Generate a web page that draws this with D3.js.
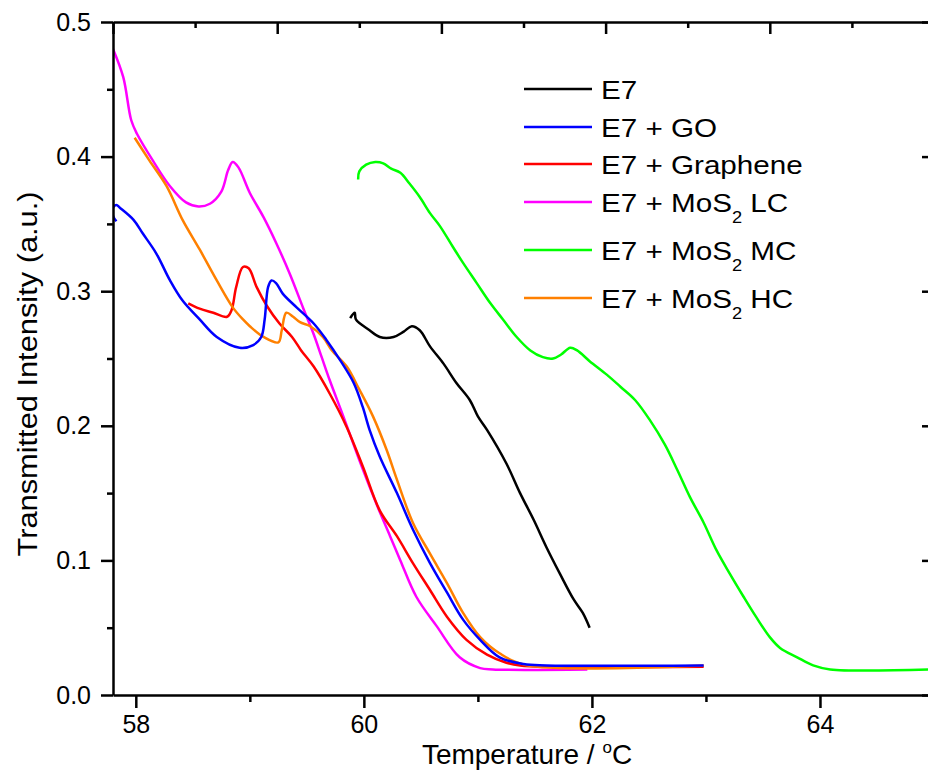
<!DOCTYPE html>
<html>
<head>
<meta charset="utf-8">
<script src="https://cdn.jsdelivr.net/npm/d3@7"></script>
<style>
  body { margin: 0; background: #fff; }
  svg { display: block; }
</style>
</head>
<body>
<div id="vis-svg"></div>
<script>
// chart data
var tempE7 = [59.88, 59.92, 59.93, 60.05, 60.14, 60.26, 60.35, 60.42, 60.49, 60.58, 60.70, 60.81, 60.93, 61.00, 61.08, 61.25, 61.37, 61.49, 61.60, 61.72, 61.84, 61.92, 61.98];
var intE7  = [0.280, 0.284, 0.279, 0.271, 0.266, 0.266, 0.270, 0.274, 0.271, 0.259, 0.246, 0.232, 0.219, 0.207, 0.197, 0.172, 0.150, 0.130, 0.110, 0.090, 0.071, 0.061, 0.050];

var tempGO = [57.83, 57.80, 57.80, 57.83, 57.86, 57.98, 58.06, 58.18, 58.30, 58.41, 58.56, 58.71, 58.91, 59.03, 59.10, 59.13, 59.16, 59.19, 59.23, 59.29, 59.41, 59.56, 59.67, 59.79, 59.91, 59.99, 60.05, 60.14, 60.29, 60.43, 60.58, 60.73, 60.87, 61.02, 61.19, 61.40, 61.60, 62.98];
var intGO  = [0.352, 0.356, 0.362, 0.364, 0.362, 0.353, 0.343, 0.328, 0.308, 0.293, 0.279, 0.266, 0.258, 0.260, 0.266, 0.279, 0.303, 0.308, 0.306, 0.298, 0.288, 0.276, 0.264, 0.249, 0.232, 0.214, 0.197, 0.177, 0.150, 0.123, 0.098, 0.076, 0.056, 0.041, 0.028, 0.023, 0.022, 0.022];

var tempGr = [58.46, 58.56, 58.68, 58.80, 58.84, 58.88, 58.94, 58.99, 59.06, 59.15, 59.26, 59.37, 59.45, 59.56, 59.70, 59.85, 59.99, 60.14, 60.29, 60.43, 60.58, 60.73, 60.90, 61.08, 61.25, 61.37, 61.60, 62.98];
var intGr  = [0.291, 0.287, 0.284, 0.281, 0.286, 0.303, 0.318, 0.317, 0.303, 0.289, 0.276, 0.266, 0.256, 0.244, 0.224, 0.199, 0.170, 0.137, 0.118, 0.098, 0.078, 0.058, 0.041, 0.030, 0.024, 0.022, 0.021, 0.021];

var tempLC = [57.80, 57.89, 57.96, 58.01, 58.15, 58.30, 58.44, 58.55, 58.65, 58.75, 58.81, 58.85, 58.90, 59.00, 59.12, 59.23, 59.35, 59.47, 59.56, 59.63, 59.70, 59.82, 59.98, 60.11, 60.23, 60.32, 60.46, 60.64, 60.84, 61.02, 61.13, 61.96];
var intLC  = [0.480, 0.459, 0.427, 0.417, 0.397, 0.378, 0.366, 0.363, 0.365, 0.374, 0.390, 0.396, 0.392, 0.373, 0.355, 0.336, 0.313, 0.287, 0.268, 0.251, 0.234, 0.207, 0.170, 0.142, 0.118, 0.100, 0.073, 0.051, 0.028, 0.020, 0.019, 0.019];

var tempMC = [59.95, 59.96, 60.02, 60.10, 60.17, 60.24, 60.32, 60.40, 60.49, 60.58, 60.67, 60.78, 60.87, 60.99, 61.11, 61.22, 61.34, 61.46, 61.57, 61.66, 61.73, 61.81, 61.87, 61.98, 62.13, 62.25, 62.38, 62.51, 62.64, 62.75, 62.86, 62.98, 63.09, 63.21, 63.33, 63.44, 63.56, 63.65, 63.80, 63.94, 64.09, 65.00];
var intMC  = [0.383, 0.389, 0.394, 0.396, 0.395, 0.391, 0.388, 0.380, 0.370, 0.358, 0.348, 0.333, 0.321, 0.306, 0.291, 0.279, 0.266, 0.256, 0.251, 0.250, 0.253, 0.258, 0.256, 0.248, 0.238, 0.229, 0.219, 0.204, 0.186, 0.167, 0.147, 0.128, 0.108, 0.090, 0.073, 0.058, 0.043, 0.035, 0.028, 0.022, 0.019, 0.019];

var tempHC = [57.99, 58.12, 58.27, 58.41, 58.56, 58.71, 58.85, 58.94, 59.00, 59.12, 59.25, 59.28, 59.32, 59.38, 59.44, 59.53, 59.64, 59.72, 59.85, 59.96, 60.08, 60.20, 60.29, 60.43, 60.58, 60.73, 60.87, 61.02, 61.19, 61.43, 62.98];
var intHC  = [0.414, 0.397, 0.378, 0.353, 0.331, 0.308, 0.288, 0.279, 0.274, 0.266, 0.262, 0.271, 0.284, 0.281, 0.277, 0.274, 0.266, 0.256, 0.244, 0.227, 0.207, 0.182, 0.160, 0.128, 0.105, 0.083, 0.061, 0.043, 0.031, 0.022, 0.022];

var seriesNames = ["E7", "E7 + GO", "E7 + Graphene", "E7 + MoS2 LC", "E7 + MoS2 MC", "E7 + MoS2 HC"];
var seriesColors = ["#000000", "#0000ff", "#ff0000", "#ff00ff", "#00ff00", "#ff8000"];

var xTicks = [58, 60, 62, 64];
var xMinor = [59, 61, 63, 65];
var yTicks = [0, 0.1, 0.2, 0.3, 0.4, 0.5];
var yMinor = [0.05, 0.15, 0.25, 0.35, 0.45];

// sizes
var width = 928;
var height = 771;
var margin = { top: 22, left: 113, right: 934, bottom: 695 };
var font = "'Liberation Sans', Arial, Helvetica, sans-serif";

var svg = d3.select("#vis-svg").append("svg")
  .attr("width", width)
  .attr("height", height)
  .style("font-family", font);

var x = d3.scaleLinear().domain([57.8, 65]).range([margin.left, margin.right]);
var y = d3.scaleLinear().domain([0, 0.5]).range([margin.bottom, margin.top]);
// top axis in Origin uses its own tick spacing
var xTop = d3.scaleLinear().domain([0, 5]).range([margin.left, margin.right]);

svg.append("clipPath").attr("id", "plotClip")
  .append("rect")
  .attr("x", margin.left).attr("y", margin.top)
  .attr("width", margin.right - margin.left)
  .attr("height", margin.bottom - margin.top);

// series
var allSeries = [
  [tempE7, intE7], [tempGO, intGO], [tempGr, intGr],
  [tempLC, intLC], [tempMC, intMC], [tempHC, intHC]
];

var line = d3.line()
  .x(function(d) { return x(d[0]); })
  .y(function(d) { return y(d[1]); })
  .curve(d3.curveCatmullRom.alpha(0.5));

var plot = svg.append("g").attr("clip-path", "url(#plotClip)");

// draw order so that blue sits on top of the flat tails
var drawOrder = [0, 4, 3, 2, 5, 1];
drawOrder.forEach(function(i) {
  var pts = allSeries[i][0].map(function(t, k) { return [t, allSeries[i][1][k]]; });
  plot.append("path")
    .datum(pts)
    .attr("fill", "none")
    .attr("stroke", seriesColors[i])
    .attr("stroke-width", 2.5)
    .attr("stroke-linejoin", "round")
    .attr("d", line);
});

// axes
function styleAxis(g) {
  g.selectAll("path.domain").attr("stroke", "#000").attr("stroke-width", 2.5);
  g.selectAll(".tick line").attr("stroke", "#000").attr("stroke-width", 2.5);
  g.selectAll(".tick text").attr("fill", "#000").style("font-family", font).style("font-size", "25px");
}

var leftAx = svg.append("g").attr("transform", "translate(" + margin.left + ",0)");
leftAx.call(d3.axisLeft(y).tickValues(yTicks).tickFormat(d3.format(".1f")).tickSize(12).tickSizeOuter(0).tickPadding(10));
leftAx.append("g").call(d3.axisLeft(y).tickValues(yMinor).tickFormat("").tickSize(6)).select(".domain").remove();
styleAxis(leftAx);

var bottomAx = svg.append("g").attr("transform", "translate(0," + margin.bottom + ")");
bottomAx.call(d3.axisBottom(x).tickValues(xTicks).tickFormat(d3.format("d")).tickSize(13).tickSizeOuter(0).tickPadding(7));
bottomAx.append("g").call(d3.axisBottom(x).tickValues(xMinor).tickFormat("").tickSize(7)).select(".domain").remove();
styleAxis(bottomAx);

var topAx = svg.append("g").attr("transform", "translate(0," + margin.top + ")");
topAx.call(d3.axisTop(xTop).ticks(5).tickFormat("").tickSize(-12).tickSizeOuter(0));
topAx.append("g").call(d3.axisTop(xTop).tickValues([0.5, 1.5, 2.5, 3.5, 4.5]).tickFormat("").tickSize(-6)).select(".domain").remove();
styleAxis(topAx);

var rightAx = svg.append("g").attr("transform", "translate(" + margin.right + ",0)");
rightAx.call(d3.axisRight(y).tickValues(yTicks).tickFormat("").tickSize(-12).tickSizeOuter(0));
rightAx.append("g").call(d3.axisRight(y).tickValues(yMinor).tickFormat("").tickSize(-6)).select(".domain").remove();
styleAxis(rightAx);

// axis titles
svg.append("text")
  .attr("transform", "translate(37,374) rotate(-90)")
  .attr("text-anchor", "middle")
  .attr("textLength", 365)
  .attr("lengthAdjust", "spacingAndGlyphs")
  .style("font-size", "27px")
  .text("Transmitted Intensity (a.u.)");

var xTitle = svg.append("text")
  .attr("x", 527)
  .attr("y", 764)
  .attr("text-anchor", "middle")
  .style("font-size", "28px");
xTitle.append("tspan").text("Temperature / ");
xTitle.append("tspan").attr("dy", -11).style("font-size", "17px").text("o");
xTitle.append("tspan").attr("dy", 11).text("C");

// legend
var legendY = [89, 127, 164, 202, 250, 298];
var legend = svg.append("g");
seriesNames.forEach(function(name, i) {
  var ly = legendY[i];
  legend.append("line")
    .attr("x1", 524).attr("x2", 592)
    .attr("y1", ly).attr("y2", ly)
    .attr("stroke", seriesColors[i])
    .attr("stroke-width", 2.5);

  var t = legend.append("text")
    .attr("transform", "translate(601," + (ly + 10) + ") scale(1.14,1)")
    .style("font-size", "26px");
  var parts = name.split("MoS2");
  if (parts.length > 1) {
    t.append("tspan").text(parts[0] + "MoS");
    t.append("tspan").attr("dy", 11).style("font-size", "16px").text("2");
    t.append("tspan").attr("dy", -11).text(parts[1]);
  } else {
    t.text(name);
  }
});
</script>
</body>
</html>
